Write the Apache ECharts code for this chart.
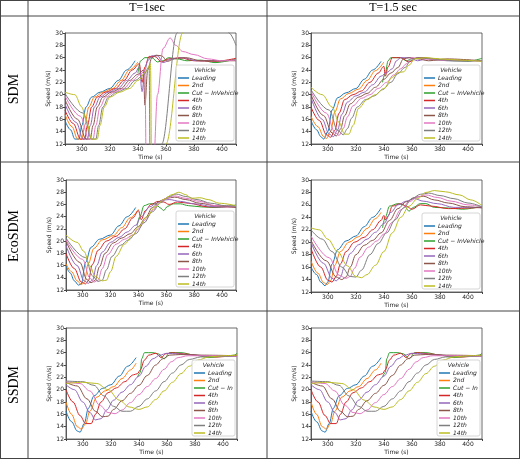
<!DOCTYPE html>
<html>
<head>
<meta charset="utf-8">
<script src="https://cdn.jsdelivr.net/npm/echarts@6/dist/echarts.min.js"></script>
<style>html,body{margin:0;padding:0;background:#fff}#container{width:520px;height:459px}</style>
</head>
<body>
<div id="container"></div>
<script>
var colors = ['#1f77b4','#ff7f0e','#2ca02c','#d62728','#9467bd','#8c564b','#e377c2','#7f7f7f','#bcbd22'];
var namesLong = ['Leading','2nd','Cut − InVehicle','4th','6th','8th','10th','12th','14th'];
var namesShort = ['Leading','2nd','Cut − In','4th','6th','8th','10th','12th','14th'];
var colHeads = ['T=1sec','T=1.5 sec'];
var rowHeads = ['SDM','EcoSDM','SSDM'];
var xTicks = [300,320,340,360,380,400];

// SDM, T=1
var sdm1 = [
  [[288,15.8],[292,14.3],[295,12.8],[298,12.8],[300,15],[303,18],[307,19.6],[313,20.4],[320,21],[326,22.3],[332,24],[338,25.5]],
  [[288,16.8],[293,14.8],[297,12.8],[300,12.8],[302,15],[305,18],[309,19.6],[315,20.4],[322,21],[328,22.3],[334,24],[340,25.3]],
  [[340,23.5],[342,25.5],[345,26],[350,26],[354,25.3],[358,25.5],[362,26],[368,25.8],[375,25.5],[385,25.6],[395,25.2],[410,25.8]],
  [[288,17.5],[294,15.3],[299,12.8],[302,12.8],[304,15],[307,18],[311,19.6],[317,20.4],[324,21],[330,22.3],[336,24],[341,25],[343,22],[345,24.5],[348,26.2],[352,26.2],[357,25.3],[362,25.8],[370,26],[380,25.5],[395,25.4],[410,25.9]],
  [[288,18.5],[296,15.5],[301,12.8],[304,12.8],[306,15],[309,18],[313,19.6],[319,20.4],[326,21],[332,22.3],[338,23.5],[341,24.5],[343,20.5],[345,24],[347,25.5],[350,26.3],[354,26.3],[358,25.2],[364,25.8],[372,26],[382,25.5],[395,25.5],[410,25.6]],
  [[288,19.2],[297,16],[303,12.8],[306,12.8],[308,15],[311,18],[315,19.6],[321,20.4],[328,21],[334,22.3],[340,23.3],[344,24],[345,18.3],[347,24],[350,26],[353,26.4],[357,26.3],[361,25.4],[366,25.8],[374,26],[385,25.5],[410,25.5]],
  [[288,19.8],[299,16.5],[305,12.8],[308,12.8],[310,15],[313,18],[317,19.6],[323,20.4],[330,21],[336,22.3],[342,23.3],[345,24],[346,8],[351,8],[354,20],[358,27.5],[363,29.2],[367,28],[372,27],[380,26.5],[390,25.8],[400,25.5],[410,25.6]],
  [[288,20.2],[301,17],[307,12.8],[310,12.8],[312,15],[315,18],[319,19.6],[325,20.4],[332,21],[338,22.3],[344,23.2],[348,24.5],[349,0],[352,-5],[357,12],[368,30],[372,36],[400,40],[405,30],[410,28]],
  [[288,20.4],[295,20],[300,18],[303,16],[307,12.8],[311,12.8],[313,15],[316,18],[320,19.6],[327,20.4],[334,21],[340,22.3],[346,23.8],[349,25],[350,0],[355,-5],[360,12],[372,30],[376,36]]
];
// SDM, T=1.5
var sdm15 = [
  [[288,15.8],[292,14.3],[295,13.2],[297,12.8],[300,14],[303,17.5],[307,19.5],[313,20.3],[320,21],[326,22.5],[332,24],[338,25.4]],
  [[288,16.5],[293,14.8],[297,13.2],[299,12.9],[302,14],[305,17.2],[309,19.3],[315,20.2],[322,20.9],[328,22.3],[334,23.9],[340,25.3]],
  [[339,22],[341,23.5],[343,25.5],[345,26],[352,26],[356,25.5],[360,25.8],[368,26],[378,25.6],[390,25.5],[400,25.4],[410,25.9]],
  [[288,18],[294,15.8],[299,13.5],[302,13.1],[305,14.2],[308,17],[312,19.2],[318,20],[324,20.6],[330,22],[336,23.5],[340,24.6],[341,23],[343,24.5],[346,26],[352,26],[358,25.3],[364,26],[372,25.9],[385,25.6],[410,25.5]],
  [[288,19.5],[296,16],[301,13.6],[304,13.2],[307,14.3],[310,16.8],[314,18.8],[320,19.8],[326,20.4],[332,21.6],[338,23],[342,23.6],[346,24.2],[349,25.5],[352,26],[358,26],[364,25.5],[372,25.9],[385,25.5],[410,25.5]],
  [[288,20],[297,16.6],[303,13.8],[306,13.3],[309,14.4],[312,16.6],[316,18.5],[322,19.6],[328,20.2],[334,21.2],[340,22.5],[345,23.5],[350,24.4],[354,25.8],[358,26],[364,25.8],[372,25.5],[385,25.8],[410,25.5]],
  [[288,20.5],[299,17],[305,13.9],[308,13.4],[311,14.5],[314,16.4],[318,18.2],[324,19.4],[330,20],[336,21],[342,22],[347,23.2],[352,24.2],[356,25],[360,26],[368,25.8],[380,25.6],[395,25.5],[410,25.5]],
  [[288,20.8],[301,17.5],[307,14.2],[311,13.5],[314,14.5],[317,16.2],[321,18],[327,19.2],[333,19.8],[339,20.8],[345,22],[350,23.4],[355,24.4],[359,25.5],[364,26],[374,25.8],[390,25.5],[410,25.5]],
  [[288,21.2],[296,20],[303,18],[308,15.5],[312,13.6],[315,13.6],[318,15],[322,17.8],[328,19.2],[334,20],[340,21],[346,22.8],[350,23.6],[354,23.7],[358,24.8],[362,25.8],[370,26],[380,25.8],[395,25.6],[410,25.4]]
];
// EcoSDM, T=1
var eco1 = [
  [[288,16],[291,14.8],[294,13.5],[297,12.8],[299,13],[302,16.5],[306,19],[312,20.3],[320,21],[326,22.5],[332,24],[338,25.5]],
  [[288,16.3],[292,15],[296,13.5],[299,12.9],[301,13.2],[304,16.3],[308,18.8],[314,20.2],[322,20.9],[328,22.2],[334,23.8],[340,25.2]],
  [[339,22.5],[341,24],[344,25.8],[348,26.1],[352,26.1],[356,25.4],[358,25],[361,25.7],[365,26.1],[370,26.1],[376,25.8],[385,25.6],[395,25.5],[410,25.9]],
  [[288,18],[294,15.5],[299,13.3],[302,13],[304,13.5],[307,16.2],[311,18.5],[317,20],[324,20.8],[330,22],[336,23.8],[340,25],[342,23.5],[345,25],[349,26],[354,26.5],[358,26.4],[362,26],[368,26.4],[376,26.2],[390,25.6],[410,25.6]],
  [[288,19.3],[296,16],[301,13.5],[304,13.1],[307,13.6],[310,16],[314,18.2],[320,19.8],[326,20.6],[332,21.5],[338,22.6],[342,24],[348,25.6],[353,26.2],[357,26.7],[362,26.8],[370,26.5],[380,26.1],[395,25.6],[410,25.6]],
  [[288,20],[298,16.5],[303,13.7],[306,13.2],[309,13.6],[312,15.8],[316,18],[322,19.7],[328,20.5],[334,21.2],[340,22.4],[345,23.8],[350,25.5],[355,26.5],[360,27],[366,27.2],[374,26.8],[384,26.2],[395,25.8],[410,25.5]],
  [[288,20.2],[300,17],[305,14],[308,13.3],[311,13.6],[314,15.5],[318,17.8],[324,19.5],[330,20.3],[336,21],[340,22],[345,23.5],[350,25],[355,26.3],[360,27],[366,27.4],[374,27],[384,26.5],[395,25.8],[410,25.7]],
  [[288,20.5],[302,17.3],[307,14.3],[311,13.4],[314,13.6],[317,15.3],[321,17.5],[327,19.3],[333,20.2],[338,21.2],[344,23],[350,24.8],[356,26.3],[362,27.3],[367,27.7],[374,27.3],[382,26.8],[392,26.2],[402,25.8],[410,25.7]],
  [[288,21],[296,19.8],[301,18.3],[305,16],[309,14.2],[314,13.5],[317,13.6],[320,15],[324,17.5],[330,19.5],[336,21],[340,22.3],[346,24],[352,25.6],[358,26.8],[364,27.6],[369,28],[374,27.6],[378,27],[384,27.1],[390,26.8],[398,26.2],[410,25.8]]
];
// EcoSDM, T=1.5
var eco15 = [
  [[288,16],[292,14.8],[295,13.6],[298,13],[300,13.6],[303,16.5],[307,18.8],[313,20.2],[320,21],[326,22.5],[332,24],[338,25.5]],
  [[288,17],[293,15],[297,13.5],[299.5,13.2],[302,13.8],[305,16.3],[309,18.5],[315,20],[322,20.9],[328,22.2],[334,23.8],[338,24.8]],
  [[339,22.3],[341,24],[344,25.8],[350,26.2],[354,26],[358,25],[361,25.6],[366,26.2],[370,26.2],[376,25.6],[386,25.5],[396,25.3],[410,25.8]],
  [[288,19],[295,16],[300,13.9],[303,13.6],[306,14.5],[309,16.5],[313,18.5],[319,20],[326,20.8],[332,22],[338,23.5],[340,24.3],[341,23.6],[343,24.2],[346,25.8],[352,26.2],[356,25.8],[360,25.3],[366,26],[374,25.8],[386,25.4],[410,25.6]],
  [[288,20],[297,16.6],[303,14.2],[306,13.8],[309,14.4],[312,16.2],[316,18.2],[322,19.6],[328,20.5],[334,21.6],[340,23],[345,24.8],[350,26],[356,26.6],[362,27],[368,26.6],[378,26.2],[390,25.6],[410,25.6]],
  [[288,20.3],[299,17],[306,14.4],[310,14],[313,14.4],[316,16],[320,18],[326,19.5],[332,20.3],[338,21.5],[344,23.5],[350,25.4],[356,26.5],[362,27.2],[368,27.4],[376,26.8],[386,26.3],[398,25.7],[410,25.5]],
  [[288,21],[301,17.5],[308,14.7],[313,14.2],[316,14.5],[319,15.8],[323,17.6],[329,19.2],[335,20.2],[340,21.3],[346,23.2],[352,25.2],[358,26.5],[364,27.3],[370,27.6],[378,27.2],[388,26.6],[400,26],[410,25.7]],
  [[288,22],[296,20.5],[303,18.5],[310,16],[316,14.5],[320,14.4],[324,15.5],[330,18],[336,19.8],[342,21.5],[348,23.6],[354,25.5],[360,27],[366,27.7],[372,27.9],[380,27.5],[390,27],[400,26.3],[410,25.7]],
  [[288,22.3],[294,22],[300,20.5],[307,18.5],[314,16.2],[320,14.5],[324,14.3],[328,14.8],[334,16.3],[340,18.5],[346,21.5],[352,24],[358,25.8],[364,27],[370,28],[376,28.3],[384,28.1],[394,27.6],[402,26.8],[410,25.9]]
];
// SSDM (both headways look alike)
var ssdm1 = [
  [[288,16.5],[292,14.8],[296,13.3],[298,13.1],[301,14.5],[304,17],[308,19],[314,20.2],[320,20.8],[326,22.2],[332,23.8],[338,25.2]],
  [[288,18],[292,16],[296,14],[299,13.6],[302,14.5],[305,16.5],[310,18.8],[316,19.8],[322,20.5],[328,21.8],[334,23.2],[338,24.3]],
  [[339,22],[341,22.8],[342,25],[344,26],[350,26],[354,25.8],[358,25],[362,26],[370,26],[380,25.6],[390,25.2],[400,25.4],[408,25.6],[410,25.9]],
  [[288,20],[293,18],[298,15.8],[302,14.5],[306,14.5],[309,16],[313,18],[318,19.5],[324,20.3],[330,21.3],[336,22.4],[339,22.6],[341,23.2],[344,24.8],[347,25.6],[352,25.9],[356,25.2],[359,25.8],[364,26],[372,25.8],[385,25.5],[395,25.3],[410,25.6]],
  [[288,20.8],[294,20],[300,18],[305,16.3],[309,15.1],[313,15.3],[317,16.7],[322,18.3],[328,19.6],[334,20.8],[340,22.2],[345,23.8],[350,25],[355,25.6],[360,25.9],[368,25.8],[380,25.6],[395,25.4],[410,25.4]],
  [[288,21.2],[296,20.6],[303,18.5],[309,16.5],[314,15.6],[318,15.7],[322,16.8],[328,18.2],[334,19.4],[340,20.7],[346,22.3],[352,24],[357,25],[362,25.6],[370,25.7],[385,25.6],[410,25.5]],
  [[288,21.3],[298,21],[305,19.8],[312,17.5],[318,16.3],[323,16.1],[328,16.7],[334,17.9],[340,19.2],[346,20.5],[352,21.8],[358,23.3],[363,24.5],[368,25.2],[375,25.5],[390,25.5],[410,25.4]],
  [[288,21.4],[300,21.3],[308,20.7],[315,19],[322,17.3],[328,16.5],[334,16.5],[340,17.3],[346,18.5],[352,19.8],[358,21.3],[364,22.7],[370,24],[376,24.9],[384,25.3],[395,25.4],[410,25.5]],
  [[288,21],[300,21.2],[310,21],[318,20],[326,18.3],[333,17.2],[340,16.8],[346,17.2],[352,18.4],[358,19.8],[364,21.2],[370,22.6],[376,23.8],[382,24.8],[390,25.3],[400,25.5],[410,25.6]]
];
var ssdm15 = ssdm1;

var panels = [
  {data: sdm1, names: namesLong, left: 65, top: 33, w: 171, h: 111, lw: 58},
  {data: sdm15, names: namesLong, left: 311, top: 33, w: 171, h: 111, lw: 58},
  {data: eco1, names: namesLong, left: 66, top: 180, w: 170, h: 110, lw: 58},
  {data: eco15, names: namesLong, left: 311, top: 180, w: 171, h: 112, lw: 58},
  {data: ssdm1, names: namesShort, left: 66, top: 328, w: 171, h: 111, lw: 43},
  {data: ssdm15, names: namesShort, left: 311, top: 328, w: 171, h: 111, lw: 43}
];

var dom = document.getElementById('container');
var myChart = echarts.init(dom);
var font = 'DejaVu Sans';
var grid = [], xAxis = [], yAxis = [], series = [], legend = [], graphic = [];

panels.forEach(function (p, i) {
  grid.push({left: p.left, top: p.top, width: p.w, height: p.h});
  xAxis.push({
    type: 'value', gridIndex: i, min: 288, max: 410,
    name: 'Time (s)', nameLocation: 'middle', nameGap: 10,
    nameTextStyle: {fontSize: 6, fontFamily: font, color: '#222'},
    axisLine: {onZero: false, lineStyle: {color: '#444', width: 0.8}},
    axisTick: {length: 2, lineStyle: {color: '#444'}},
    axisLabel: {fontSize: 6, fontFamily: font, color: '#222', margin: 2,
      formatter: function (v) { return xTicks.indexOf(v) >= 0 ? v : ''; }},
    splitLine: {show: false}
  });
  yAxis.push({
    type: 'value', gridIndex: i, min: 12, max: 30, interval: 2,
    name: 'Speed (m/s)', nameLocation: 'middle', nameGap: 12,
    nameTextStyle: {fontSize: 6, fontFamily: font, color: '#222'},
    axisLine: {show: true, lineStyle: {color: '#444', width: 0.8}},
    axisTick: {length: 2, lineStyle: {color: '#444'}},
    axisLabel: {fontSize: 6, fontFamily: font, color: '#222', margin: 2},
    splitLine: {show: false}
  });
  graphic.push({type: 'rect', shape: {x: p.left, y: p.top, width: p.w, height: p.h},
    style: {fill: 'none', stroke: '#444', lineWidth: 0.8}, z: 1});
  p.data.forEach(function (d, k) {
    series.push({
      name: p.names[k], type: 'line', xAxisIndex: i, yAxisIndex: i,
      data: d, symbol: 'none', smooth: 0.35, smoothMonotone: 'x',
      lineStyle: {width: 1, color: colors[k]}, itemStyle: {color: colors[k]},
      clip: true, animation: false
    });
  });
  var bx = p.left + p.w - p.lw - 2, by = p.top + p.h - 79;
  graphic.push({type: 'rect', shape: {x: bx, y: by, width: p.lw, height: 76, r: 2},
    style: {fill: 'rgba(255,255,255,0.85)', stroke: '#ccc', lineWidth: 0.8}, z: 5});
  graphic.push({type: 'text', x: bx + p.lw / 2, y: by + 2,
    style: {text: 'Vehicle', fontSize: 6, fontStyle: 'italic', fontFamily: font, fill: '#222', align: 'center'}, z: 6});
  legend.push({
    data: p.names, orient: 'vertical', left: bx + 2, top: by + 10,
    icon: 'rect', itemWidth: 11, itemHeight: 1.5, itemGap: 1.5, padding: 0, z: 7,
    selectedMode: false,
    textStyle: {fontSize: 6, lineHeight: 6, fontStyle: 'italic', fontFamily: font, color: '#222', padding: [0, 0, 0, -2]}
  });
});

// table lines
var lc = '#444';
[[0, 0.5, 520, 0.5], [0, 458.5, 520, 458.5], [0.5, 0, 0.5, 459], [519.5, 0, 519.5, 459],
 [0, 16, 520, 16], [0, 162, 520, 162], [0, 311, 520, 311], [28, 0, 28, 459], [267, 0, 267, 459]
].forEach(function (l) {
  graphic.push({type: 'line', shape: {x1: l[0], y1: l[1], x2: l[2], y2: l[3]}, style: {stroke: lc, lineWidth: 1}});
});
[147, 393].forEach(function (cx, j) {
  graphic.push({type: 'text', x: cx, y: 8, style: {text: colHeads[j], fontSize: 12,
    fontFamily: 'Liberation Serif', fill: '#000', align: 'center', verticalAlign: 'middle'}});
});
[89, 236, 385].forEach(function (cy, j) {
  graphic.push({type: 'text', x: 14, y: cy, rotation: Math.PI / 2, style: {text: rowHeads[j], fontSize: 14,
    fontFamily: 'Liberation Serif', fill: '#000', align: 'center', verticalAlign: 'middle'}});
});

option = {
  backgroundColor: '#fff',
  animation: false,
  grid: grid, xAxis: xAxis, yAxis: yAxis,
  legend: legend, series: series, graphic: graphic
};
myChart.setOption(option, true);
</script>
</body>
</html>
